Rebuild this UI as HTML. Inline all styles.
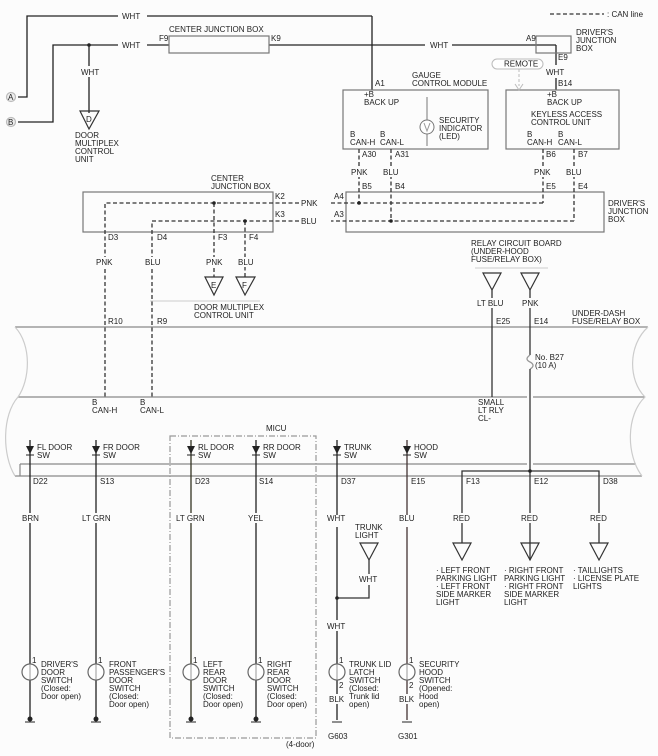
<!DOCTYPE html>
<html><head><meta charset="utf-8"><style>
html,body{margin:0;padding:0;background:#fff}
svg{display:block}
text{font-family:"Liberation Sans",sans-serif;font-size:8px;fill:#222}
</style></head><body>
<svg width="658" height="756" viewBox="0 0 658 756" xmlns="http://www.w3.org/2000/svg">
<rect width="658" height="756" fill="#fcfcfc"/>
<g fill="none" stroke="#222" stroke-width="1.3">
<polyline points="18,97 27,97 27,16 118,16"/><line x1="147" y1="16" x2="372" y2="16"/><line x1="372" y1="16" x2="372" y2="90"/>
<polyline points="18,122 53,122 53,45 118,45"/><line x1="147" y1="45" x2="169" y2="45"/>
<line x1="269" y1="45" x2="425" y2="45"/><line x1="452" y1="45" x2="556" y2="45"/><line x1="556" y1="45" x2="556" y2="65"/><line x1="556" y1="78" x2="556" y2="90"/>
<line x1="89" y1="45" x2="89" y2="66"/><line x1="89" y1="77" x2="89" y2="113"/>
</g>
<circle cx="89" cy="45" r="1.8" fill="#222"/>
<g fill="none" stroke="#777" stroke-width="1.2">
<circle cx="11" cy="97" r="4.5" fill="#eee" stroke="#bbb"/><circle cx="11" cy="122" r="4.5" fill="#eee" stroke="#bbb"/>
<rect x="169" y="36" width="100" height="17"/>
<rect x="536" y="36" width="35" height="17"/>
<rect x="343" y="90" width="145" height="59"/>
<rect x="506" y="90" width="113" height="59"/>
<rect x="83" y="192" width="190" height="40"/>
<rect x="346" y="192" width="258" height="40"/>
</g>
<g fill="none" stroke="#333" stroke-width="1.2">
<polygon points="80,111 99,111 89,129"/>
<polygon points="205,277 223,277 214,295"/><polygon points="236,277 255,277 245,295"/>
<polygon points="483,273 501,273 492,290"/><polygon points="521,273 539,273 530,290"/>
<polygon points="360,543 378,543 369,560"/>
<polygon points="453,543 471,543 462,560"/><polygon points="521,543 539,543 530,560"/><polygon points="590,543 608,543 599,560"/>
</g>
<path d="M150,301 L260,301 M475,268 L548,268" stroke="#ccc" stroke-width="1"/>
<text x="86" y="122" font-size="7">D</text><text x="211" y="288" font-size="7">E</text><text x="242" y="288" font-size="7">F</text>
<rect x="492" y="59" width="51" height="10" rx="5" fill="#fff" stroke="#bbb"/>
<text x="504" y="66.5" font-size="6.5">REMOTE</text>
<line x1="519" y1="69" x2="519" y2="86" stroke="#bbb" stroke-dasharray="3,2"/><polyline points="515,84 519,90 523,84" fill="none" stroke="#bbb"/>
<line x1="427" y1="97" x2="427" y2="146" stroke="#777"/><circle cx="427" cy="127" r="7" fill="#fff" stroke="#777"/>
<polyline points="424,123 427,131 430,123" fill="none" stroke="#999"/>
<g fill="none" stroke="#333" stroke-width="1.3" stroke-dasharray="4,2.5">
<line x1="550" y1="14" x2="604" y2="14"/>
<polyline points="299,203 105,203 105,397"/><line x1="543" y1="149" x2="543" y2="203"/><line x1="543" y1="203" x2="331" y2="203"/>
<polyline points="299,221 152,221 152,397"/><line x1="574" y1="149" x2="574" y2="221"/><line x1="574" y1="221" x2="331" y2="221"/>
<line x1="359" y1="149" x2="359" y2="203"/><line x1="391" y1="149" x2="391" y2="221"/>
<line x1="214" y1="203" x2="214" y2="277"/><line x1="245" y1="221" x2="245" y2="277"/>
</g>
<g fill="#222"><circle cx="359" cy="203" r="1.8"/><circle cx="391" cy="221" r="1.8"/><circle cx="214" cy="203" r="1.8"/><circle cx="245" cy="221" r="1.8"/></g>
<g fill="none" stroke="#888" stroke-width="1.2">
<line x1="15" y1="327" x2="648" y2="327"/>
<line x1="18" y1="397" x2="527" y2="397"/><line x1="533" y1="397" x2="645" y2="397"/>
<line x1="20" y1="464" x2="527" y2="464"/><line x1="533" y1="464" x2="636" y2="464"/>
<line x1="15" y1="476" x2="642" y2="476"/><line x1="20" y1="464" x2="20" y2="476"/>
</g>
<g fill="none" stroke="#ccc" stroke-width="1.2">
<path d="M15,327 C32,345 30,380 18,397 C2,415 2,455 15,476"/>
<path d="M648,327 C628,345 628,380 645,397 C626,415 626,455 642,476"/>
</g>
<g fill="none" stroke="#333" stroke-width="1.3">
<line x1="492" y1="290" x2="492" y2="397"/>
<line x1="530" y1="290" x2="530" y2="355"/><path d="M530,355 C526,358 526,360 530,362 C534,364 534,367 530,369" stroke="#999"/><line x1="530" y1="369" x2="530" y2="560"/>
<polyline points="462,543 462,471 599,471 599,543"/>
<line x1="369" y1="560" x2="369" y2="574"/><polyline points="369,585 369,598 337,598"/>
</g>
<circle cx="530" cy="471" r="1.8" fill="#222"/><circle cx="337" cy="598" r="1.8" fill="#222"/>
<rect x="170" y="436" width="146" height="302" fill="none" stroke="#999" stroke-width="1.2" stroke-dasharray="6,2,1,2"/>
<g stroke="#222" stroke-width="1.3" fill="none">
<line x1="30" y1="440" x2="30" y2="719"/><line x1="96" y1="440" x2="96" y2="719"/>
<line x1="191" y1="440" x2="191" y2="719" stroke="#332"/><line x1="256" y1="440" x2="256" y2="719"/>
<line x1="337" y1="440" x2="337" y2="515"/><line x1="337" y1="527" x2="337" y2="620"/><line x1="337" y1="631" x2="337" y2="720"/>
<line x1="407" y1="440" x2="407" y2="515" stroke="#433"/><line x1="407" y1="527" x2="407" y2="720" stroke="#433"/>
</g>
<g fill="#222">
<polygon points="26,446 34,446 30,454"/><polygon points="92,446 100,446 96,454"/><polygon points="187,446 195,446 191,454"/><polygon points="252,446 260,446 256,454"/><polygon points="333,446 341,446 337,454"/><polygon points="403,446 411,446 407,454"/>
<circle cx="30" cy="719" r="2.5"/><circle cx="96" cy="719" r="2.5"/><circle cx="191" cy="719" r="2.5"/><circle cx="256" cy="719" r="2.5"/>
</g>
<g stroke="#222" stroke-width="1"><line x1="26" y1="455" x2="34" y2="455"/><line x1="92" y1="455" x2="100" y2="455"/><line x1="187" y1="455" x2="195" y2="455"/><line x1="252" y1="455" x2="260" y2="455"/><line x1="333" y1="455" x2="341" y2="455"/><line x1="403" y1="455" x2="411" y2="455"/>
<line x1="25" y1="722" x2="35" y2="722"/><line x1="91" y1="722" x2="101" y2="722"/><line x1="186" y1="722" x2="196" y2="722"/><line x1="251" y1="722" x2="261" y2="722"/><line x1="332" y1="722" x2="342" y2="722"/><line x1="402" y1="722" x2="412" y2="722"/></g>
<g fill="#fff" stroke="#666" stroke-width="1.2">
<circle cx="30" cy="672" r="8"/><circle cx="96" cy="672" r="8"/><circle cx="191" cy="672" r="8"/><circle cx="256" cy="672" r="8"/><circle cx="337" cy="672" r="8"/><circle cx="407" cy="672" r="8"/>
</g>
<g stroke="#999" stroke-width="1"><line x1="30" y1="664" x2="30" y2="680"/><line x1="96" y1="664" x2="96" y2="680"/><line x1="191" y1="664" x2="191" y2="680"/><line x1="256" y1="664" x2="256" y2="680"/><line x1="337" y1="664" x2="337" y2="680"/><line x1="407" y1="664" x2="407" y2="680"/></g>
<!-- label gaps -->
<g fill="#fcfcfc">
<rect x="94" y="257" width="22" height="10"/><rect x="141" y="257" width="22" height="10"/><rect x="204" y="257" width="20" height="10"/><rect x="236" y="257" width="20" height="10"/>
<rect x="349" y="167" width="20" height="10"/><rect x="381" y="167" width="20" height="10"/><rect x="532" y="167" width="20" height="10"/><rect x="564" y="167" width="20" height="10"/>
<rect x="475" y="298" width="32" height="10"/><rect x="520" y="298" width="20" height="10"/>
<rect x="20" y="513" width="22" height="10"/><rect x="80" y="513" width="30" height="10"/><rect x="174" y="513" width="32" height="10"/><rect x="246" y="513" width="20" height="10"/><rect x="451" y="513" width="20" height="10"/><rect x="519" y="513" width="20" height="10"/><rect x="588" y="513" width="20" height="10"/>
<rect x="327" y="694" width="20" height="10"/><rect x="397" y="694" width="20" height="10"/>
</g>
<text x="122" y="19">WHT</text><text x="122" y="48">WHT</text><text x="430" y="48">WHT</text>
<text x="169" y="32">CENTER JUNCTION BOX</text><text x="159" y="41">F9</text><text x="271" y="41">K9</text>
<text x="81" y="75">WHT</text>
<text x="75" y="138">DOOR</text><text x="75" y="146">MULTIPLEX</text><text x="75" y="154">CONTROL</text><text x="75" y="162">UNIT</text>
<text x="607" y="17">: CAN line</text>
<text x="526" y="41">A9</text><text x="576" y="35">DRIVER'S</text><text x="576" y="43">JUNCTION</text><text x="576" y="51">BOX</text>
<text x="558" y="60">E9</text><text x="546" y="75">WHT</text><text x="558" y="86">B14</text>
<text x="375" y="86">A1</text><text x="412" y="78">GAUGE</text><text x="412" y="86">CONTROL MODULE</text>
<text x="364" y="97">+B</text><text x="364" y="105">BACK UP</text>
<text x="439" y="123">SECURITY</text><text x="439" y="131">INDICATOR</text><text x="439" y="139">(LED)</text>
<text x="350" y="137">B</text><text x="350" y="145">CAN-H</text><text x="380" y="137">B</text><text x="380" y="145">CAN-L</text>
<text x="547" y="97">+B</text><text x="547" y="105">BACK UP</text><text x="531" y="117">KEYLESS ACCESS</text><text x="531" y="125">CONTROL UNIT</text>
<text x="527" y="137">B</text><text x="527" y="145">CAN-H</text><text x="558" y="137">B</text><text x="558" y="145">CAN-L</text>
<text x="362" y="157">A30</text><text x="395" y="157">A31</text><text x="546" y="157">B6</text><text x="578" y="157">B7</text>
<text x="351" y="175">PNK</text><text x="383" y="175">BLU</text><text x="534" y="175">PNK</text><text x="566" y="175">BLU</text>
<text x="362" y="189">B5</text><text x="395" y="189">B4</text><text x="546" y="189">E5</text><text x="578" y="189">E4</text>
<text x="334" y="199">A4</text><text x="334" y="217">A3</text>
<text x="301" y="206">PNK</text><text x="301" y="224">BLU</text>
<text x="275" y="199">K2</text><text x="275" y="217">K3</text>
<text x="211" y="181">CENTER</text><text x="211" y="189">JUNCTION BOX</text>
<text x="608" y="206">DRIVER'S</text><text x="608" y="214">JUNCTION</text><text x="608" y="222">BOX</text>
<text x="108" y="240">D3</text><text x="157" y="240">D4</text><text x="218" y="240">F3</text><text x="249" y="240">F4</text>
<text x="96" y="265">PNK</text><text x="145" y="265">BLU</text><text x="206" y="265">PNK</text><text x="238" y="265">BLU</text>
<text x="194" y="310">DOOR MULTIPLEX</text><text x="194" y="318">CONTROL UNIT</text>
<text x="471" y="246">RELAY CIRCUIT BOARD</text><text x="471" y="254">(UNDER-HOOD</text><text x="471" y="262">FUSE/RELAY BOX)</text>
<text x="477" y="306">LT BLU</text><text x="522" y="306">PNK</text>
<text x="572" y="316">UNDER-DASH</text><text x="572" y="324">FUSE/RELAY BOX</text>
<text x="108" y="324">R10</text><text x="157" y="324">R9</text><text x="496" y="324">E25</text><text x="534" y="324">E14</text>
<text x="535" y="360">No. B27</text><text x="535" y="368">(10 A)</text>
<text x="92" y="405">B</text><text x="92" y="413">CAN-H</text><text x="140" y="405">B</text><text x="140" y="413">CAN-L</text>
<text x="478" y="405">SMALL</text><text x="478" y="413">LT RLY</text><text x="478" y="421">CL-</text>
<text x="266" y="431">MICU</text>
<text x="37" y="450">FL DOOR</text><text x="37" y="458">SW</text><text x="103" y="450">FR DOOR</text><text x="103" y="458">SW</text>
<text x="198" y="450">RL DOOR</text><text x="198" y="458">SW</text><text x="263" y="450">RR DOOR</text><text x="263" y="458">SW</text>
<text x="344" y="450">TRUNK</text><text x="344" y="458">SW</text><text x="414" y="450">HOOD</text><text x="414" y="458">SW</text>
<text x="33" y="484">D22</text><text x="100" y="484">S13</text><text x="195" y="484">D23</text><text x="259" y="484">S14</text><text x="341" y="484">D37</text><text x="411" y="484">E15</text>
<text x="466" y="484">F13</text><text x="534" y="484">E12</text><text x="603" y="484">D38</text>
<text x="22" y="521">BRN</text><text x="82" y="521">LT GRN</text><text x="176" y="521">LT GRN</text><text x="248" y="521">YEL</text><text x="327" y="521">WHT</text><text x="399" y="521">BLU</text>
<text x="453" y="521">RED</text><text x="521" y="521">RED</text><text x="590" y="521">RED</text>
<text x="355" y="530">TRUNK</text><text x="355" y="538">LIGHT</text><text x="359" y="582">WHT</text><text x="327" y="629">WHT</text>
<text x="436" y="573">· LEFT FRONT</text><text x="436" y="581">PARKING LIGHT</text><text x="436" y="589">· LEFT FRONT</text><text x="436" y="597">SIDE MARKER</text><text x="436" y="605">LIGHT</text>
<text x="504" y="573">· RIGHT FRONT</text><text x="504" y="581">PARKING LIGHT</text><text x="504" y="589">· RIGHT FRONT</text><text x="504" y="597">SIDE MARKER</text><text x="504" y="605">LIGHT</text>
<text x="573" y="573">· TAILLIGHTS</text><text x="573" y="581">· LICENSE PLATE</text><text x="573" y="589">LIGHTS</text>
<g font-size="7"><text x="32" y="663">1</text><text x="98" y="663">1</text><text x="193" y="663">1</text><text x="258" y="663">1</text><text x="339" y="663">1</text><text x="409" y="663">1</text><text x="339" y="688">2</text><text x="409" y="688">2</text></g>
<text x="41" y="667">DRIVER'S</text><text x="41" y="675">DOOR</text><text x="41" y="683">SWITCH</text><text x="41" y="691">(Closed:</text><text x="41" y="699">Door open)</text>
<text x="109" y="667">FRONT</text><text x="109" y="675">PASSENGER'S</text><text x="109" y="683">DOOR</text><text x="109" y="691">SWITCH</text><text x="109" y="699">(Closed:</text><text x="109" y="707">Door open)</text>
<text x="203" y="667">LEFT</text><text x="203" y="675">REAR</text><text x="203" y="683">DOOR</text><text x="203" y="691">SWITCH</text><text x="203" y="699">(Closed:</text><text x="203" y="707">Door open)</text>
<text x="267" y="667">RIGHT</text><text x="267" y="675">REAR</text><text x="267" y="683">DOOR</text><text x="267" y="691">SWITCH</text><text x="267" y="699">(Closed:</text><text x="267" y="707">Door open)</text>
<text x="349" y="667">TRUNK LID</text><text x="349" y="675">LATCH</text><text x="349" y="683">SWITCH</text><text x="349" y="691">(Closed:</text><text x="349" y="699">Trunk lid</text><text x="349" y="707">open)</text>
<text x="419" y="667">SECURITY</text><text x="419" y="675">HOOD</text><text x="419" y="683">SWITCH</text><text x="419" y="691">(Opened:</text><text x="419" y="699">Hood</text><text x="419" y="707">open)</text>
<text x="329" y="702">BLK</text><text x="399" y="702">BLK</text>
<text x="328" y="739">G603</text><text x="398" y="739">G301</text><text x="286" y="747">(4-door)</text>
<text x="8" y="100" font-size="6.5">A</text><text x="8" y="125" font-size="6.5">B</text>
</svg>
</body></html>
